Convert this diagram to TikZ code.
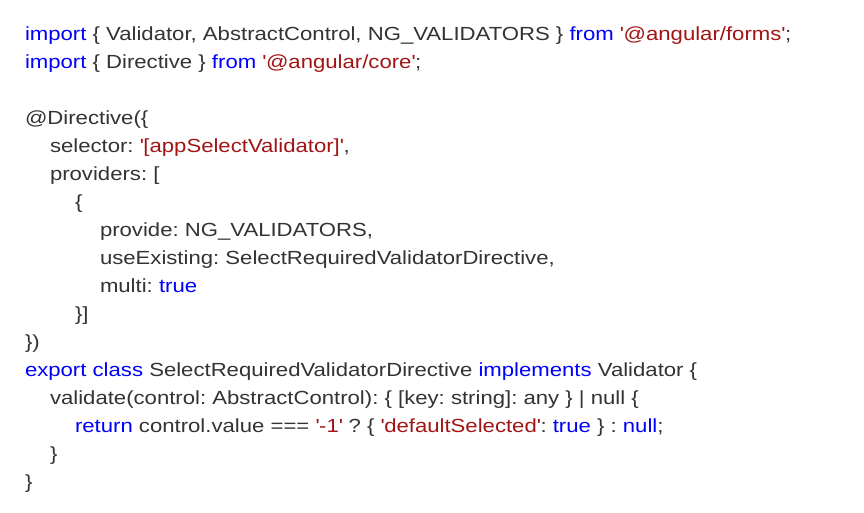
\documentclass[tikz,border=0pt]{standalone}
\usepackage{fontspec}
\setmainfont{Liberation Sans}[FakeStretch=1.165]
\definecolor{codetext}{HTML}{333333}
\definecolor{codekw}{HTML}{0000FF}
\definecolor{codestr}{HTML}{A31515}
\newcommand\kw[1]{\textcolor{codekw}{#1}}
\newcommand\cstr[1]{\textcolor{codestr}{#1}}
\newcommand\cq{\textquotesingle}
\tikzset{codeline/.style={anchor=base west, inner sep=0pt, outer sep=0pt, text=codetext, font=\fontsize{19}{24}\selectfont\frenchspacing}}
\begin{document}
\begin{tikzpicture}[x=1pt,y=1pt]
\useasboundingbox[fill=white] (0,0) rectangle (864,513);
\node[codeline] (l1) at (25,513-41) {\kw{import} \{ Validator, AbstractControl, NG\_VALIDATORS \} \kw{from} \cstr{\cq @angular/forms\cq};};
\node[codeline] (l2) at (25,513-69) {\kw{import} \{ Directive \} \kw{from} \cstr{\cq @angular/core\cq};};
\node[codeline] (l4) at (25,513-125) {@Directive(\{};
\node[codeline] (l5) at (50,513-153) {selector: \cstr{\cq[appSelectValidator]\cq},};
\node[codeline] (l6) at (50,513-181) {providers: [};
\node[codeline] (l7) at (75,513-209) {\{};
\node[codeline] (l8) at (100,513-237) {provide: NG\_VALIDATORS,};
\node[codeline] (l9) at (100,513-265) {useExisting: SelectRequiredValidatorDirective,};
\node[codeline] (l10) at (100,513-293) {multi: \kw{true}};
\node[codeline] (l11) at (75,513-321) {\}]};
\node[codeline] (l12) at (25,513-349) {\})};
\node[codeline] (l13) at (25,513-377) {\kw{export} \kw{class} SelectRequiredValidatorDirective \kw{implements} Validator \{};
\node[codeline] (l14) at (50,513-405) {validate(control: AbstractControl): \{ [key: string]: any \} | null \{};
\node[codeline] (l15) at (75,513-433) {\kw{return} control.value === \cstr{\cq-1\cq} ? \{ \cstr{\cq defaultSelected\cq}: \kw{true} \} : \kw{null};};
\node[codeline] (l16) at (50,513-461) {\}};
\node[codeline] (l17) at (25,513-489) {\}};
\end{tikzpicture}
\end{document}
